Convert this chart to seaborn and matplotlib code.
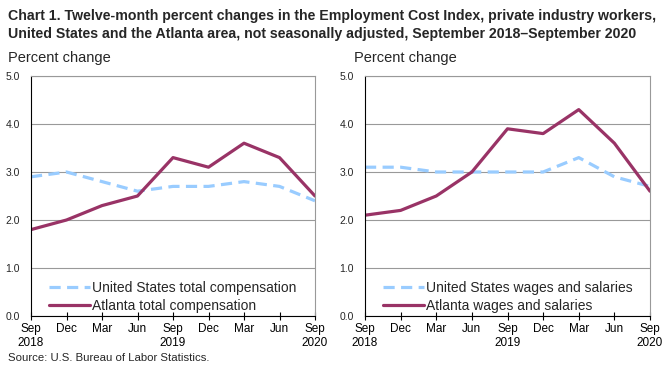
import numpy as np
import pandas as pd
import matplotlib
matplotlib.use("Agg")
import matplotlib.pyplot as plt
import seaborn as sns

## data

months = ['Sep\n2018', 'Dec', 'Mar', 'Jun', 'Sep\n2019', 'Dec', 'Mar', 'Jun', 'Sep\n2020']
us_total_comp = [2.9, 3.0, 2.8, 2.6, 2.7, 2.7, 2.8, 2.7, 2.4]
atl_total_comp = [1.8, 2.0, 2.3, 2.5, 3.3, 3.1, 3.6, 3.3, 2.5]
us_wages = [3.1, 3.1, 3.0, 3.0, 3.0, 3.0, 3.3, 2.9, 2.7]
atl_wages = [2.1, 2.2, 2.5, 3.0, 3.9, 3.8, 4.3, 3.6, 2.6]

COLOR_US = '#99CCFF'
COLOR_ATL = '#993366'

sns.set_style('white')
plt.rcParams['font.family'] = ['Liberation Sans', 'DejaVu Sans']

fig = plt.figure(figsize=(6.68, 3.69), dpi=100)
ax1 = fig.add_axes([31/668, 1-316/369, 284/668, 240/369])
ax2 = fig.add_axes([365/668, 1-316/369, 285/668, 240/369])

panels = [
	(ax1, us_total_comp, atl_total_comp, 'United States total compensation', 'Atlanta total compensation'),
	(ax2, us_wages, atl_wages, 'United States wages and salaries', 'Atlanta wages and salaries'),
]

x = np.arange(len(months))
for ax, us, atl, lab_us, lab_atl in panels:
	df = pd.DataFrame({'x': x, 'us': us, 'atl': atl})
	sns.lineplot(ax=ax, data=df, x='x', y='us', color=COLOR_US, lw=2.3, label=lab_us)
	ax.lines[-1].set_dashes([3.5, 2])
	sns.lineplot(ax=ax, data=df, x='x', y='atl', color=COLOR_ATL, lw=2.3, label=lab_atl)
	ax.set_xlim(0, len(months) - 1)
	ax.set_ylim(0, 5)
	ax.set_yticks(np.arange(0, 5.01, 1.0))
	ax.set_yticklabels(['{0:.1f}'.format(v) for v in np.arange(0, 5.01, 1.0)], fontsize=7.5)
	ax.set_xticks(x)
	ax.set_xticklabels(months, fontsize=8.5)
	ax.set_xlabel('')
	ax.set_ylabel('')
	ax.yaxis.grid(True, color='#999999', lw=0.8)
	ax.set_axisbelow(True)
	for s in ['top', 'right']:
		ax.spines[s].set_color('#999999')
		ax.spines[s].set_linewidth(0.8)
	for s in ['left', 'bottom']:
		ax.spines[s].set_color('black')
		ax.spines[s].set_linewidth(0.8)
	ax.tick_params(axis='x', direction='inout', length=6, width=0.8, bottom=True, pad=2, colors='black')
	ax.tick_params(axis='y', length=0, pad=8)
	ax.legend(loc='lower left', bbox_to_anchor=(0.055, 0.0), frameon=False, fontsize=10,
		handlelength=2.9, handletextpad=0.15, labelspacing=0.3, borderpad=0, borderaxespad=0.2)

fig.text(8/668, 1-58/369, 'Percent change', fontsize=10.5, va='center', ha='left')
fig.text(354/668, 1-58/369, 'Percent change', fontsize=10.5, va='center', ha='left')

fig.text(8/668, 1-16/369, 'Chart 1. Twelve-month percent changes in the Employment Cost Index, private industry workers,',
	fontsize=10.2, fontweight='bold', va='center', ha='left')
fig.text(8/668, 1-34/369, 'United States and the Atlanta area, not seasonally adjusted, September 2018\u2013September 2020',
	fontsize=10.2, fontweight='bold', va='center', ha='left')
fig.text(8/668, 1-358/369, 'Source: U.S. Bureau of Labor Statistics.', fontsize=8.2, va='center', ha='left')

fig.savefig('out.png', dpi=100)
